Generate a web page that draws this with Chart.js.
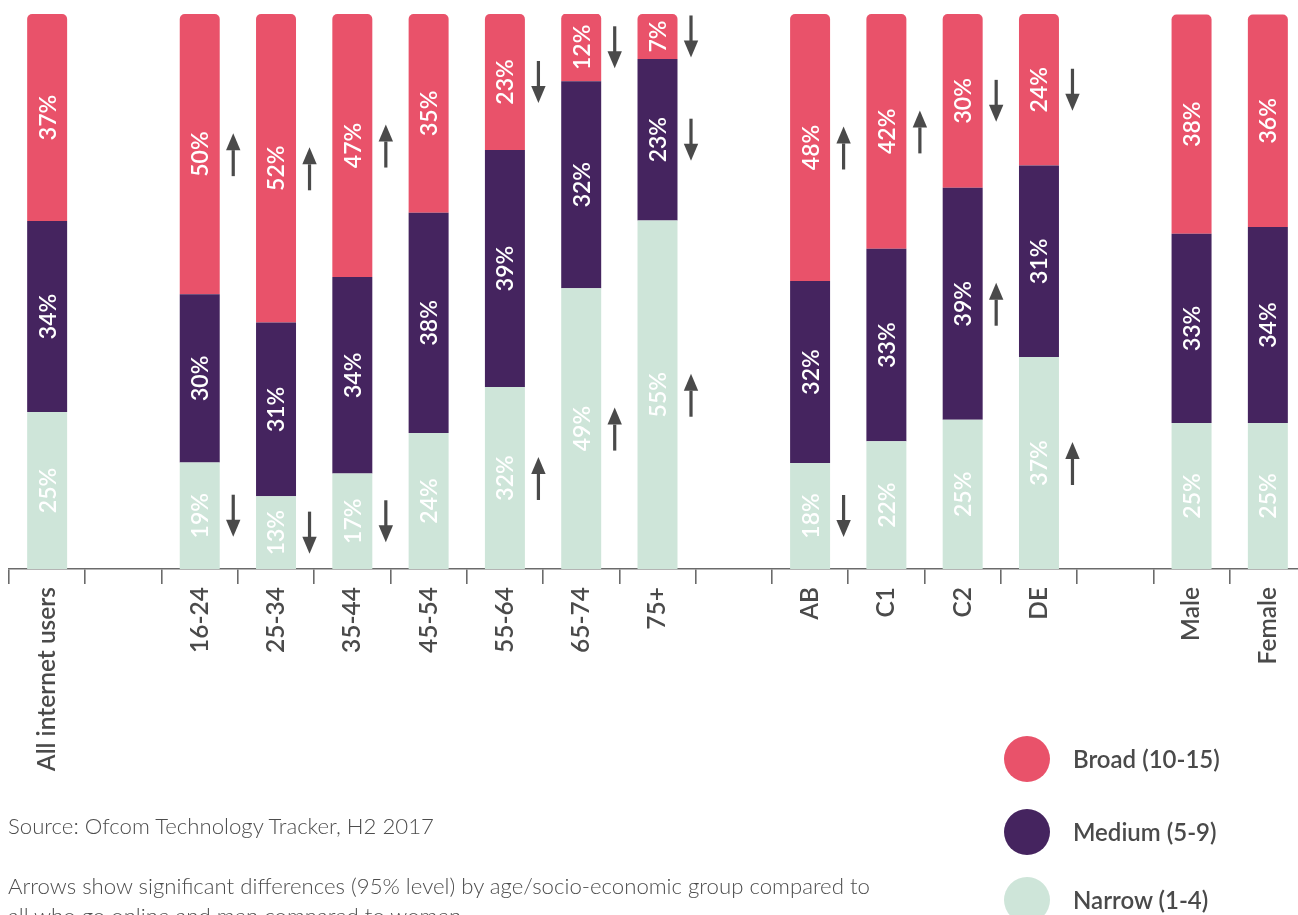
<!DOCTYPE html>
<html>
<head>
<meta charset="utf-8">
<script src="https://cdn.jsdelivr.net/npm/chart.js@4.4.1/dist/chart.umd.min.js"></script>
<style>
html,body{margin:0;padding:0;background:#fff;width:1298px;height:915px;overflow:hidden;}
#wrap{position:absolute;left:0;top:0;width:1310px;height:915px;}
.note{position:absolute;left:8px;font-family:Lato,"Open Sans",sans-serif;font-weight:300;color:#4d4d4d;font-size:22.2px;white-space:nowrap;line-height:30px;}
.leg-dot{position:absolute;width:46px;height:46px;border-radius:50%;}
.leg-txt{position:absolute;font-family:Lato,"Open Sans",sans-serif;font-weight:600;color:#4a4a4a;font-size:24px;white-space:nowrap;line-height:30px;}
</style>
</head>
<body>
<div id="wrap"><canvas id="c" width="1310" height="915"></canvas></div>
<div class="note" style="top:811px">Source: Ofcom Technology Tracker, H2 2017</div>
<div class="note" style="top:871px">Arrows show significant differences (95% level) by age/socio-economic group compared to<br>all who go online and men compared to women.</div>
<div id="legend"></div>
<script>
// ---- data ----
const categories = ['All internet users', '', '16-24', '25-34', '35-44', '45-54', '55-64', '65-74', '75+', '', 'AB', 'C1', 'C2', 'DE', '', 'Male', 'Female'];

// bar segment heights (share of the bar, as drawn)
const broadShare  = [37.3, null, 50.5, 55.6, 47.4, 35.8, 24.5, 12.2, 8.1, null, 48.1, 42.3, 31.3, 27.3, null, 39.5, 38.3];
const mediumShare = [34.4, null, 30.3, 31.3, 35.4, 39.7, 42.7, 37.3, 29.1, null, 32.8, 34.7, 41.8, 34.5, null, 34.1, 35.3];
const narrowShare = [28.3, null, 19.2, 13.1, 17.2, 24.5, 32.8, 50.6, 62.8, null, 19.1, 23.0, 26.9, 38.2, null, 26.3, 26.3];

// percentages printed on the segments
const broadLabel  = [37, null, 50, 52, 47, 35, 23, 12, 7, null, 48, 42, 30, 24, null, 38, 36];
const mediumLabel = [34, null, 30, 31, 34, 38, 39, 32, 23, null, 32, 33, 39, 31, null, 33, 34];
const narrowLabel = [25, null, 19, 13, 17, 24, 32, 49, 55, null, 18, 22, 25, 37, null, 25, 25];

// significance arrows
const broadArrow  = ['', '', 'up', 'up', 'up', '', 'down', 'down', 'down', '', 'up', 'up', 'down', 'down', '', '', ''];
const mediumArrow = ['', '', '', '', '', '', '', '', 'down', '', '', '', 'up', '', '', '', ''];
const narrowArrow = ['', '', 'down', 'down', 'down', '', 'up', 'up', 'up', '', 'down', '', '', 'up', '', '', ''];

const seriesNames = ['Broad (10-15)', 'Medium (5-9)', 'Narrow (1-4)'];
const seriesColors = ['#E9526A', '#45245F', '#CEE5D9'];

// ---- legend (HTML) ----
const legendTops = [736, 809, 877];
const legend = document.getElementById('legend');
seriesNames.forEach((name, i) => {
  const d = document.createElement('div');
  d.className = 'leg-dot';
  d.style.left = '1004px';
  d.style.top = legendTops[i] + 'px';
  d.style.background = seriesColors[i];
  legend.appendChild(d);
  const t = document.createElement('div');
  t.className = 'leg-txt';
  t.style.left = '1073px';
  t.style.top = (legendTops[i] + 8) + 'px';
  t.textContent = name;
  legend.appendChild(t);
});

// ---- plugin: segment labels + arrows ----
function drawArrow(ctx, x, cy, dir) {
  const L = 42, hl = 17, hw = 7.2, sw = 1.6;
  const s = dir === 'up' ? -1 : 1;
  const tip = cy + s * L / 2;
  const tail = cy - s * L / 2;
  const headBase = tip - s * hl;
  ctx.save();
  ctx.fillStyle = '#4a4a4a';
  ctx.fillRect(x - sw, Math.min(tail, headBase), sw * 2, Math.abs(tail - headBase) + 1);
  ctx.beginPath();
  ctx.moveTo(x - hw, headBase);
  ctx.lineTo(x + hw, headBase);
  ctx.lineTo(x, tip);
  ctx.closePath();
  ctx.fill();
  ctx.restore();
}

const segPlugin = {
  id: 'segLabels',
  afterDatasetsDraw(chart) {
    const ctx = chart.ctx;
    chart.data.datasets.forEach((ds, di) => {
      const meta = chart.getDatasetMeta(di);
      meta.data.forEach((el, i) => {
        if (ds.data[i] == null) return;
        const cy = (el.y + el.base) / 2;
        ctx.save();
        ctx.translate(el.x, cy);
        ctx.rotate(-Math.PI / 2);
        ctx.font = '600 23px Lato, "Open Sans", sans-serif';
        ctx.fillStyle = '#ffffff';
        ctx.textAlign = 'center';
        ctx.textBaseline = 'middle';
        ctx.fillText(ds.valueLabels[i] + '%', 0, 1);
        ctx.restore();
        if (ds.arrows[i]) drawArrow(ctx, el.x + 33.5, cy, ds.arrows[i]);
      });
    });
  }
};

new Chart(document.getElementById('c'), {
  type: 'bar',
  data: {
    labels: categories,
    datasets: [
      { label: seriesNames[2], data: narrowShare, valueLabels: narrowLabel, arrows: narrowArrow, backgroundColor: seriesColors[2], borderWidth: 0 },
      { label: seriesNames[1], data: mediumShare, valueLabels: mediumLabel, arrows: mediumArrow, backgroundColor: seriesColors[1], borderWidth: 0 },
      { label: seriesNames[0], data: broadShare, valueLabels: broadLabel, arrows: broadArrow, backgroundColor: seriesColors[0], borderWidth: 0,
        borderRadius: { topLeft: 5, topRight: 5, bottomLeft: 0, bottomRight: 0 }, borderSkipped: false }
    ]
  },
  options: {
    responsive: false,
    animation: false,
    devicePixelRatio: 1,
    layout: { padding: { left: 9, right: 4, top: 14, bottom: 0 } },
    datasets: { bar: { categoryPercentage: 1, barPercentage: 0.524 } },
    plugins: { legend: { display: false }, tooltip: { enabled: false } },
    scales: {
      x: {
        stacked: true,
        offset: true,
        afterFit(scale) { scale.height = 915 - 569; },
        border: { display: true, color: '#6b6b6b', width: 1.6 },
        grid: { display: true, drawOnChartArea: false, drawTicks: true, tickLength: 15, color: '#6b6b6b', lineWidth: 1.6, offset: true },
        ticks: {
          autoSkip: false, maxRotation: 90, minRotation: 90, padding: 3,
          color: '#4a4a4a',
          font: { family: 'Lato, "Open Sans", sans-serif', size: 24.5, weight: '600' }
        }
      },
      y: { stacked: true, min: 0, max: 100, display: false }
    }
  },
  plugins: [segPlugin]
});
</script>
</body>
</html>
